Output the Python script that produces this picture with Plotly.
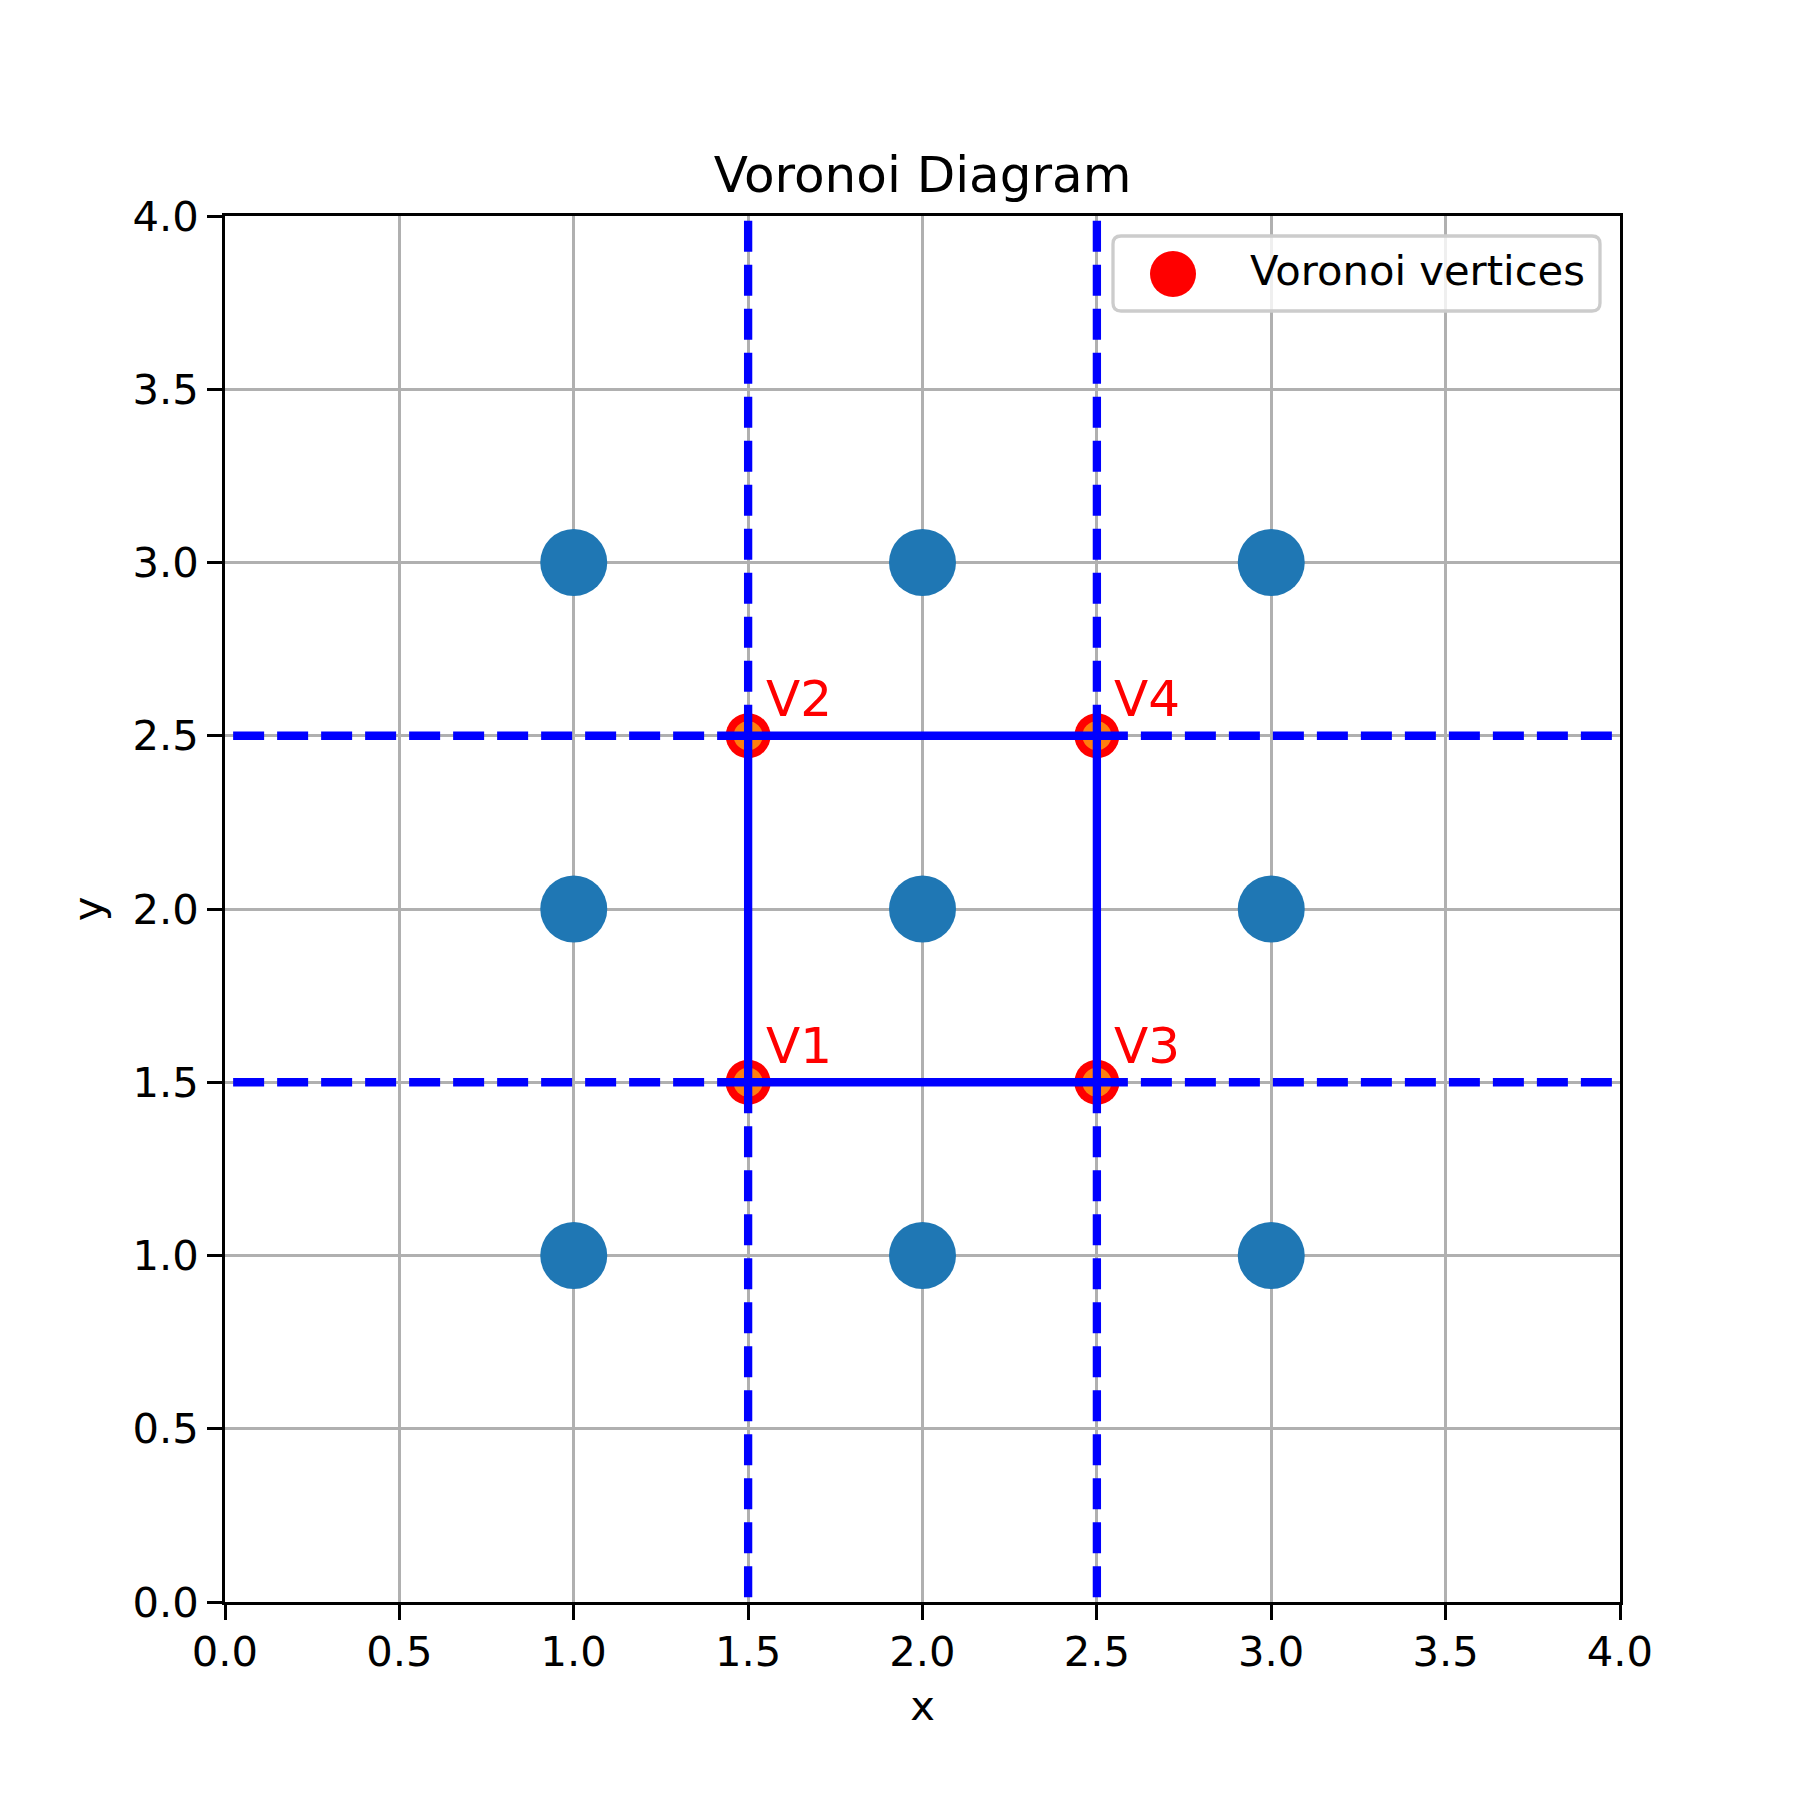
import plotly.graph_objects as go

# ---- data ----
points_x = [1, 1, 1, 2, 2, 2, 3, 3, 3]
points_y = [1, 2, 3, 1, 2, 3, 1, 2, 3]

vertices_x = [1.5, 1.5, 2.5, 2.5]
vertices_y = [1.5, 2.5, 1.5, 2.5]
vertex_labels = ["V1", "V2", "V3", "V4"]

finite_edges = [(0, 1), (0, 2), (1, 3), (2, 3)]
# (vertex index, far point x, far point y)
infinite_edges = [
    (0, -0.5, 1.5), (0, 1.5, -0.5),
    (1, -0.5, 2.5), (1, 1.5, 4.5),
    (2, 4.5, 1.5), (2, 2.5, -0.5),
    (3, 4.5, 2.5), (3, 2.5, 4.5),
]

tick_vals = [0.0, 0.5, 1.0, 1.5, 2.0, 2.5, 3.0, 3.5, 4.0]
tick_labels = ["0.0", "0.5", "1.0", "1.5", "2.0", "2.5", "3.0", "3.5", "4.0"]

title_text = "Voronoi Diagram"
legend_text = "Voronoi vertices"

# ---- layout constants (screen coords; page body has an 8px margin) ----
OFF = 8
SW = SH = 1800
W = H = SW - OFF
L, R, T, B = 225 - OFF, 180, 216 - OFF, 198
PW = W - L - R
PH = H - T - B
FONT = "DejaVu Sans"
FS = 41.7


def px(xs):
    # screen x -> paper
    return (xs - OFF - L) / PW


def py(ys):
    # screen y -> paper
    return (H - B - (ys - OFF)) / PH


fig = go.Figure()

# red vertex scatter (labelled)
fig.add_trace(go.Scatter(
    x=vertices_x, y=vertices_y, mode="markers",
    marker=dict(color="#ff0000", size=45, line=dict(width=0)),
    name=legend_text, showlegend=False, cliponaxis=False,
))
# orange vertices from voronoi plot
fig.add_trace(go.Scatter(
    x=vertices_x, y=vertices_y, mode="markers",
    marker=dict(color="#ff7f0e", size=29, line=dict(width=0)),
    showlegend=False, cliponaxis=False,
))
# input points
fig.add_trace(go.Scatter(
    x=points_x, y=points_y, mode="markers",
    marker=dict(color="#1f77b4", size=67, line=dict(width=0)),
    showlegend=False, cliponaxis=False,
))
# finite ridges
for a, b in finite_edges:
    fig.add_trace(go.Scatter(
        x=[vertices_x[a], vertices_x[b]], y=[vertices_y[a], vertices_y[b]],
        mode="lines", line=dict(color="#0000ff", width=8.3),
        showlegend=False,
    ))
# infinite ridges
for v, fx, fy in infinite_edges:
    fig.add_trace(go.Scatter(
        x=[vertices_x[v], fx], y=[vertices_y[v], fy],
        mode="lines", line=dict(color="#0000ff", width=8.3, dash="31px,13px"),
        showlegend=False,
    ))

annotations = []
for vx, vy, lab in zip(vertices_x, vertices_y, vertex_labels):
    annotations.append(dict(
        x=vx + 0.05, y=vy + 0.05, xref="x", yref="y", text=lab,
        showarrow=False, xanchor="left", yanchor="bottom", yshift=-12, xshift=-2,
        font=dict(family=FONT, size=50, color="#ff0000"),
    ))

# manual legend
lx0, lx1, ly0, ly1 = 1113, 1600, 236, 311
r = 8
x0, x1 = px(lx0), px(lx1)
y_top, y_bot = py(ly0), py(ly1)
rx, ry = r / PW, r / PH
path = (
    f"M {x0+rx},{y_top} L {x1-rx},{y_top} Q {x1},{y_top} {x1},{y_top-ry} "
    f"L {x1},{y_bot+ry} Q {x1},{y_bot} {x1-rx},{y_bot} "
    f"L {x0+rx},{y_bot} Q {x0},{y_bot} {x0},{y_bot+ry} "
    f"L {x0},{y_top-ry} Q {x0},{y_top} {x0+rx},{y_top} Z"
)
shapes = [
    dict(type="path", xref="paper", yref="paper", path=path,
         fillcolor="rgba(255,255,255,0.8)", line=dict(color="#cccccc", width=3.3),
         layer="above"),
    dict(type="circle", xref="paper", yref="paper",
         xsizemode="pixel", ysizemode="pixel",
         xanchor=px(1173), yanchor=py(274),
         x0=-23, x1=23, y0=-23, y1=23,
         fillcolor="#ff0000", line=dict(width=0), layer="above"),
]
annotations.append(dict(
    x=px(1248), y=py(271), xref="paper", yref="paper", text=legend_text,
    showarrow=False, xanchor="left", yanchor="middle",
    font=dict(family=FONT, size=FS, color="#000000"),
))

axis_common = dict(
    range=[0, 4], tickvals=tick_vals, ticktext=tick_labels,
    showgrid=True, gridcolor="#b0b0b0", gridwidth=3.3,
    zeroline=False, showline=True, linecolor="#000000", linewidth=3.3,
    mirror=True, ticks="outside", ticklen=14.6, tickwidth=3.3,
    tickcolor="#000000", tickfont=dict(family=FONT, size=FS, color="#000000"),
    fixedrange=True,
)

fig.update_layout(
    width=W, height=H,
    margin=dict(l=L, r=R, t=T, b=B, autoexpand=False),
    paper_bgcolor="#ffffff", plot_bgcolor="#ffffff",
    showlegend=False,
    title=dict(text=title_text, x=0.5, xref="paper",
               xanchor="center", y=1 - (174 - OFF) / H, yref="container", yanchor="middle",
               font=dict(family=FONT, size=50, color="#000000")),
    xaxis=dict(axis_common, ticklabelstandoff=-4,
               title=dict(text="x", standoff=17,
                          font=dict(family=FONT, size=FS, color="#000000"))),
    yaxis=dict(axis_common,
               title=dict(text="y", standoff=18,
                          font=dict(family=FONT, size=FS, color="#000000"))),
    annotations=annotations,
    shapes=shapes,
    font=dict(family=FONT),
)

fig.write_html("out.html")
